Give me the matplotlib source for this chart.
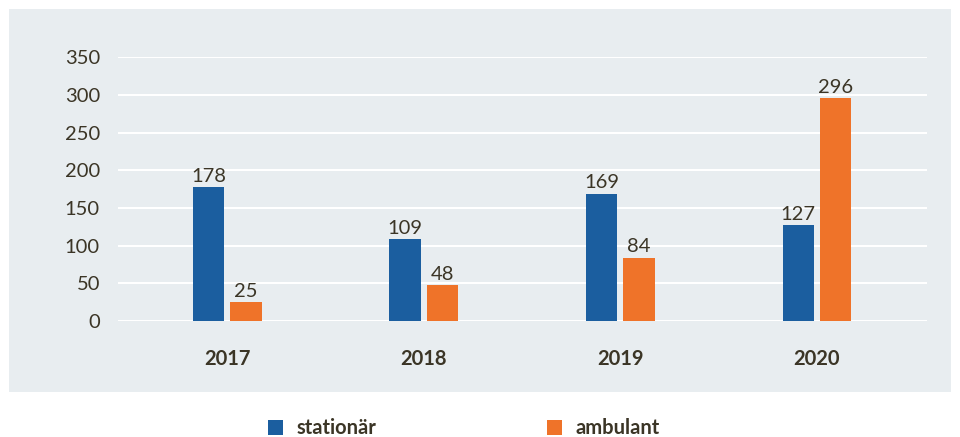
import matplotlib.pyplot as plt
from matplotlib.patches import Rectangle
import numpy as np

# data
years = ['2017', '2018', '2019', '2020']
stationaer = [178, 109, 169, 127]
ambulant = [25, 48, 84, 296]
yticks = [0, 50, 100, 150, 200, 250, 300, 350]

blue = '#1b5e9f'
orange = '#ef7329'
bg = '#e8edf0'
txt = '#3b3526'

plt.rcParams['font.family'] = ['Lato', 'DejaVu Sans']

W, H = 960, 437
fig = plt.figure(figsize=(W / 100, H / 100), dpi=100)

# light panel behind the chart
fig.patches.append(Rectangle((9 / W, 1 - 392 / H), (951 - 9) / W, (392 - 9) / H,
                             transform=fig.transFigure, facecolor=bg,
                             edgecolor='none', zorder=-10))

# axes placement in pixels
left, right, top, bottom = 118, 927, 57.3, 321
ax = fig.add_axes([left / W, 1 - bottom / H, (right - left) / W, (bottom - top) / H])
ax.set_facecolor('none')

x = np.arange(len(years))
bw = 0.16
off = 0.095
b1 = ax.bar(x - off, stationaer, bw, color=blue, zorder=3)
b2 = ax.bar(x + off, ambulant, bw, color=orange, zorder=3)

for bars, vals in ((b1, stationaer), (b2, ambulant)):
    for b, v in zip(bars, vals):
        ax.text(b.get_x() + b.get_width() / 2, v + 3, str(v), ha='center',
                va='bottom', fontsize=14.5, color=txt, zorder=4)

ax.set_xlim(-0.555, 3.56)
ax.set_ylim(0, 350)
ax.set_yticks(yticks)
ax.set_yticklabels([str(t) for t in yticks], fontsize=14.5, color=txt)
ax.set_xticks(x)
ax.set_xticklabels(years, fontsize=14.5, fontweight='bold', color=txt)
ax.tick_params(axis='y', length=0, pad=13)
ax.tick_params(axis='x', length=0, pad=20)
ax.grid(axis='y', color='white', linewidth=1.5, zorder=1)
ax.set_axisbelow(True)
for s in ax.spines.values():
    s.set_visible(False)

# legend drawn by hand in figure pixels
def legend_item(px, label, color):
    fig.patches.append(Rectangle((px / W, 1 - 435 / H), 15 / W, 15 / H,
                                 transform=fig.transFigure, facecolor=color,
                                 edgecolor='none'))
    fig.text((px + 29) / W, 1 - 428 / H, label, fontsize=14.5, fontweight='bold',
             color=txt, va='center', ha='left')

legend_item(268, 'stationär', blue)
legend_item(547, 'ambulant', orange)

fig.savefig('out.png', dpi=100)
